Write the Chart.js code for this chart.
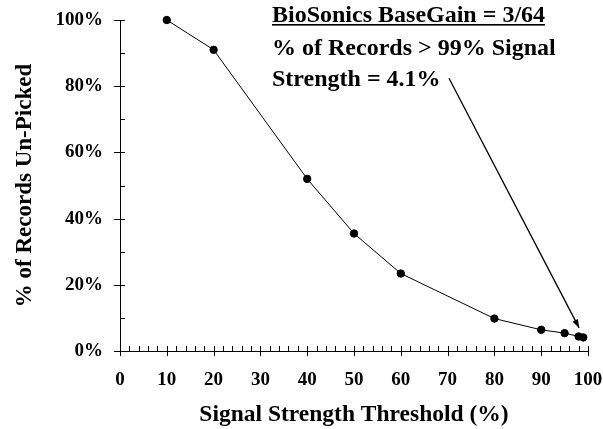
<!DOCTYPE html>
<html>
<head>
<meta charset="utf-8">
<script src="https://cdn.jsdelivr.net/npm/chart.js@4.4.1/dist/chart.umd.min.js"></script>
<style>
html, body { margin: 0; padding: 0; background: #fff; }
#wrap { width: 603px; height: 429px; position: relative; }
</style>
</head>
<body>
<div id="wrap"><canvas id="myChart"></canvas></div>
<script>
// 신호 강도 임계값 (%) / 미선택 레코드 비율 (%)
var thresholds = [10, 20, 40, 50, 60, 80, 90, 95, 98, 99];
var unpicked = [100, 91, 52, 35.5, 23.4, 9.8, 6.4, 5.4, 4.4, 4.1];
var xTicks = [0, 10, 20, 30, 40, 50, 60, 70, 80, 90, 100];
var yTicks = [0, 20, 40, 60, 80, 100];
var noteLines = ['BioSonics BaseGain = 3/64', '% of Records > 99% Signal', 'Strength = 4.1%'];
var arrowFrom = [70.3, 82.4];
var arrowTo = [98.1, 7.0];

var serif = "'Liberation Serif', 'Times New Roman', serif";

var points = [];
for (var i = 0; i < thresholds.length; i++) {
    points.push({x: thresholds[i], y: unpicked[i]});
}

function noPad(scale) {
    scale.paddingLeft = 0;
    scale.paddingRight = 0;
    scale.paddingTop = 0;
    scale.paddingBottom = 0;
}

// 축 눈금 + 주석 그리기
var extraPlugin = {
    id: 'extra',
    afterDraw: function(chart) {
        var ctx = chart.ctx;
        var xs = chart.scales.x;
        var ys = chart.scales.y;
        var area = chart.chartArea;
        ctx.save();
        ctx.strokeStyle = '#000';
        ctx.lineWidth = 1;
        ctx.beginPath();
        for (var v = 0; v <= 100; v += 2) {
            var px = Math.round(xs.getPixelForValue(v)) + 0.5;
            var major = xTicks.indexOf(v) >= 0;
            ctx.moveTo(px, area.bottom - 5);
            ctx.lineTo(px, area.bottom + (major ? 5 : 0));
        }
        for (var w = 0; w <= 100; w += 10) {
            var py = Math.round(ys.getPixelForValue(w)) + 0.5;
            var maj = yTicks.indexOf(w) >= 0;
            ctx.moveTo(area.left + 5, py);
            ctx.lineTo(area.left - (maj ? 6 : 0), py);
        }
        ctx.stroke();

        // 주석 텍스트
        ctx.fillStyle = '#000';
        ctx.font = 'bold 24px ' + serif;
        ctx.textBaseline = 'alphabetic';
        ctx.textAlign = 'left';
        var tx = 272;
        var base = [22, 55, 86];
        for (var k = 0; k < noteLines.length; k++) {
            ctx.fillText(noteLines[k], tx, base[k]);
        }
        var uw = ctx.measureText(noteLines[0]).width;
        ctx.fillRect(tx, 24, uw, 1.6);

        // 화살표
        var x1 = xs.getPixelForValue(arrowFrom[0]), y1 = ys.getPixelForValue(arrowFrom[1]);
        var x2 = xs.getPixelForValue(arrowTo[0]), y2 = ys.getPixelForValue(arrowTo[1]);
        ctx.beginPath();
        ctx.lineWidth = 1.3;
        ctx.moveTo(x1, y1);
        ctx.lineTo(x2, y2);
        ctx.stroke();
        var ang = Math.atan2(y2 - y1, x2 - x1);
        var len = 9;
        ctx.beginPath();
        ctx.moveTo(x2, y2);
        ctx.lineTo(x2 - len * Math.cos(ang - 0.35), y2 - len * Math.sin(ang - 0.35));
        ctx.lineTo(x2 - len * Math.cos(ang + 0.35), y2 - len * Math.sin(ang + 0.35));
        ctx.closePath();
        ctx.fill();
        ctx.restore();
    }
};

var ctx1 = document.getElementById('myChart').getContext('2d');
var myChart = new Chart(ctx1, {
    type: 'scatter',
    data: {
        datasets: [{
            data: points,
            showLine: true,
            clip: false,
            borderColor: '#000',
            backgroundColor: '#000',
            borderWidth: 1,
            pointRadius: 3.7,
            pointHoverRadius: 3.7,
            tension: 0
        }]
    },
    options: {
        responsive: true,
        maintainAspectRatio: false,
        animation: false,
        layout: { padding: { top: 20, right: 15, left: 0, bottom: 0 } },
        plugins: { legend: { display: false }, tooltip: { enabled: false } },
        scales: {
            x: {
                type: 'linear',
                min: 0, max: 100,
                afterFit: function(scale) { scale.height = 78; noPad(scale); },
                afterBuildTicks: function(scale) {
                    scale.ticks = xTicks.map(function(v) { return {value: v}; });
                },
                grid: { display: false, drawTicks: false },
                border: { display: true, color: '#000', width: 1 },
                ticks: {
                    color: '#000',
                    padding: 18,
                    maxRotation: 0,
                    font: { family: serif, size: 19, weight: 'bold' }
                },
                title: {
                    display: true,
                    text: 'Signal Strength Threshold (%)',
                    color: '#000',
                    padding: { top: 0, bottom: 0 },
                    font: { family: serif, size: 23.5, weight: 'bold' }
                }
            },
            y: {
                type: 'linear',
                min: 0, max: 100,
                afterFit: function(scale) { scale.width = 120; noPad(scale); },
                afterBuildTicks: function(scale) {
                    scale.ticks = yTicks.map(function(v) { return {value: v}; });
                },
                grid: { display: false, drawTicks: false },
                border: { display: true, color: '#000', width: 1 },
                ticks: {
                    color: '#000',
                    padding: 17,
                    callback: function(v) { return v + '%'; },
                    font: { family: serif, size: 19, weight: 'bold' }
                },
                title: {
                    display: true,
                    text: '% of Records Un-Picked',
                    color: '#000',
                    padding: { top: 11, bottom: 0 },
                    font: { family: serif, size: 23, weight: 'bold' }
                }
            }
        }
    },
    plugins: [extraPlugin]
});
</script>
</body>
</html>
